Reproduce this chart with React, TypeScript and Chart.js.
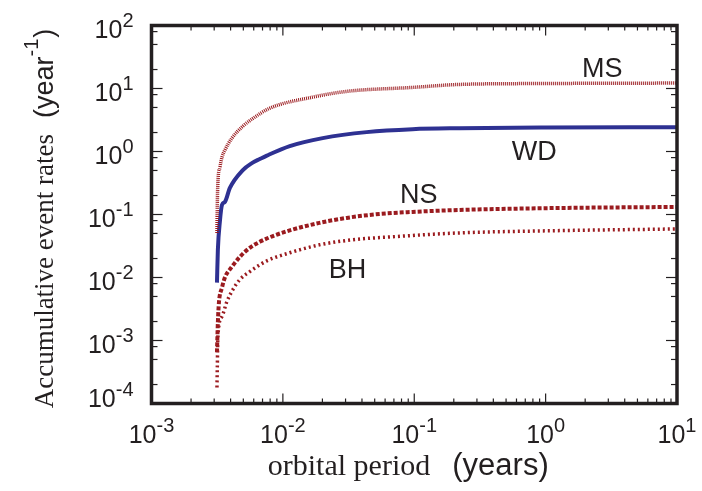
import React, { useEffect, useRef } from "react";
import { Chart, registerables } from "chart.js";

Chart.register(...registerables);

// ---- data ----
const msX = [3.15e-3, 3.17e-3, 3.2e-3, 3.32e-3, 3.44e-3, 3.62e-3, 4.09e-3, 4.96e-3, 5.81e-3, 7.94e-3, 0.0169, 0.0306, 0.097, 0.22, 1, 10];
const msY = [0.051, 0.15, 0.316, 0.566, 0.815, 1.05, 1.63, 2.52, 3.26, 4.86, 7.3, 9.0, 10.4, 11.6, 12.0, 12.2];

const wdX = [3.15e-3, 3.2e-3, 3.32e-3, 3.44e-3, 3.62e-3, 3.95e-3, 4.96e-3, 5.81e-3, 6.67e-3, 7.55e-3, 0.01128, 0.0201, 0.0434, 0.097, 0.22, 1, 10];
const wdY = [0.0083, 0.0275, 0.08, 0.142, 0.158, 0.264, 0.508, 0.655, 0.759, 0.861, 1.22, 1.63, 2.03, 2.26, 2.34, 2.4, 2.43];

const nsX = [3.15e-3, 3.2e-3, 3.26e-3, 3.44e-3, 3.62e-3, 4.09e-3, 4.71e-3, 5.6e-3, 6.67e-3, 7.94e-3, 0.01128, 0.019, 0.0306, 0.0544, 0.097, 0.22, 1, 10];
const nsY = [6.5e-4, 1.93e-3, 3.98e-3, 6.9e-3, 0.01, 0.0148, 0.0213, 0.0296, 0.0368, 0.0435, 0.056, 0.0736, 0.0883, 0.102, 0.11, 0.118, 0.126, 0.132];

const bhX = [3.15e-3, 3.17e-3, 3.2e-3, 3.44e-3, 3.75e-3, 4.16e-3, 4.71e-3, 5.6e-3, 6.67e-3, 7.55e-3, 0.01128, 0.019, 0.034, 0.0684, 0.22, 1, 10];
const bhY = [1.8e-4, 3.9e-4, 1.15e-3, 2.4e-3, 4.17e-3, 6.4e-3, 9.3e-3, 0.0124, 0.0159, 0.0184, 0.0247, 0.033, 0.0397, 0.0443, 0.051, 0.055, 0.059];

// curve labels: [text, x value, y value (baseline)]
const curveLabels: [string, number, number][] = [
  ["MS", 2.7, 15],
  ["WD", 0.82, 0.73],
  ["NS", 0.108, 0.153],
  ["BH", 0.0311, 0.0099],
];

const xTickExps = [-3, -2, -1, 0, 1];
const yTickExps = [-4, -3, -2, -1, 0, 1, 2];
const xMinorMult = [2, 3, 4, 5, 6, 7, 8, 9];
const yMinorMult = [2, 5, 8];

const xTitleSerif = "orbital period";
const xTitleSans = "(years)";
const yTitleSerif = "Accumulative event rates";
const yTitleSans = "(year";
const yTitleSup = "-1";
const yTitleEnd = ")";

const INK = "#231f20";
const RED = "#9b1b1f";
const BLUE = "#2e3192";

const pts = (xs: number[], ys: number[]) => xs.map((x, i) => ({ x, y: ys[i] }));

const SANS = '"Liberation Sans", Arial, sans-serif';
const SERIF = '"Liberation Serif", "Times New Roman", serif';

const framePlugin = {
  id: "frame",
  afterDraw(chart: any) {
    const { ctx, chartArea: a, scales } = chart;
    const xs = scales.x;
    const ys = scales.y;
    ctx.save();
    ctx.strokeStyle = INK;
    ctx.fillStyle = INK;
    ctx.lineWidth = 1.2;
    const line = (x1: number, y1: number, x2: number, y2: number) => {
      ctx.beginPath();
      ctx.moveTo(x1, y1);
      ctx.lineTo(x2, y2);
      ctx.stroke();
    };
    // x ticks
    xTickExps.forEach((e, i) => {
      const v = Math.pow(10, e);
      const px = xs.getPixelForValue(v);
      line(px, a.bottom, px, a.bottom - 10);
      line(px, a.top, px, a.top + 10);
      if (i < xTickExps.length - 1) {
        xMinorMult.forEach((m) => {
          const p = xs.getPixelForValue(v * m);
          line(p, a.bottom, p, a.bottom - 5);
          line(p, a.top, p, a.top + 5);
        });
      }
    });
    // y ticks
    yTickExps.forEach((e, i) => {
      const v = Math.pow(10, e);
      const py = ys.getPixelForValue(v);
      line(a.left, py, a.left + 11, py);
      line(a.right, py, a.right - 11, py);
      if (i < yTickExps.length - 1) {
        yMinorMult.forEach((m) => {
          const p = ys.getPixelForValue(v * m);
          line(a.left, p, a.left + 6, p);
          line(a.right, p, a.right - 6, p);
        });
      }
    });
    // frame
    ctx.lineWidth = 3.5;
    ctx.strokeRect(a.left, a.top, a.right - a.left, a.bottom - a.top);

    // tick labels
    const big = `25px ${SANS}`;
    const small = `20px ${SANS}`;
    ctx.textBaseline = "alphabetic";
    ctx.textAlign = "left";
    xTickExps.forEach((e) => {
      const px = xs.getPixelForValue(Math.pow(10, e));
      const exp = String(e);
      ctx.font = big;
      const w1 = ctx.measureText("10").width;
      ctx.font = small;
      const w2 = ctx.measureText(exp).width;
      const x0 = px - (w1 + w2) / 2;
      ctx.font = big;
      ctx.fillText("10", x0, a.bottom + 39);
      ctx.font = small;
      ctx.fillText(exp, x0 + w1, a.bottom + 28);
    });
    yTickExps.forEach((e, i) => {
      const py = ys.getPixelForValue(Math.pow(10, e));
      const exp = String(e);
      ctx.font = big;
      const w1 = ctx.measureText("10").width;
      ctx.font = small;
      const w2 = ctx.measureText(exp).width;
      const right = a.left - 18;
      const base = i === 0 ? py + 3 : py + 12;
      ctx.font = big;
      ctx.fillText("10", right - w2 - w1, base);
      ctx.font = small;
      ctx.fillText(exp, right - w2, base - 11);
    });

    // x title
    {
      const serif = `30px ${SERIF}`;
      const sans = `31px ${SANS}`;
      ctx.font = serif;
      const w1 = ctx.measureText(xTitleSerif).width;
      ctx.font = sans;
      const w2 = ctx.measureText(xTitleSans).width;
      const gap = 22;
      const cx = (a.left + a.right) / 2 - 6;
      const x0 = cx - (w1 + gap + w2) / 2;
      const base = a.bottom + 71;
      ctx.font = serif;
      ctx.fillText(xTitleSerif, x0, base);
      ctx.font = sans;
      ctx.fillText(xTitleSans, x0 + w1 + gap, base);
    }
    // y title (rotated)
    {
      const serif = `27px ${SERIF}`;
      const sans = `27px ${SANS}`;
      const sup = `20px ${SANS}`;
      ctx.font = serif;
      const w1 = ctx.measureText(yTitleSerif).width;
      ctx.font = sans;
      const w2 = ctx.measureText(yTitleSans).width;
      const w4 = ctx.measureText(yTitleEnd).width;
      ctx.font = sup;
      const w3 = ctx.measureText(yTitleSup).width;
      const gap = 16;
      const total = w1 + gap + w2 + w3 + 1 + w4;
      const cy = (a.top + a.bottom) / 2 + 4;
      ctx.save();
      ctx.translate(53, cy);
      ctx.rotate(-Math.PI / 2);
      let x = -total / 2;
      ctx.font = serif;
      ctx.fillText(yTitleSerif, x, 0);
      x += w1 + gap;
      ctx.font = sans;
      ctx.fillText(yTitleSans, x, 0);
      x += w2;
      ctx.font = sup;
      ctx.fillText(yTitleSup, x, -15);
      x += w3 + 1;
      ctx.font = sans;
      ctx.fillText(yTitleEnd, x, 0);
      ctx.restore();
    }

    // curve labels
    ctx.font = `27px ${SANS}`;
    ctx.textAlign = "center";
    curveLabels.forEach(([t, xv, yv]) => {
      ctx.fillText(t, xs.getPixelForValue(xv), ys.getPixelForValue(yv));
    });
    ctx.restore();
  },
};

export default function App() {
  const ref = useRef<HTMLCanvasElement | null>(null);
  useEffect(() => {
    if (!ref.current) return;
    const chart = new Chart(ref.current, {
      type: "line",
      data: {
        datasets: [
          {
            label: "MS",
            data: pts(msX, msY),
            borderColor: RED,
            borderWidth: 3.5,
            borderDash: [1, 1],
            pointRadius: 0,
            fill: false,
          },
          {
            label: "BH",
            data: pts(bhX, bhY),
            borderColor: RED,
            borderWidth: 3.5,
            borderDash: [2, 3],
            pointRadius: 0,
            fill: false,
          },
          {
            label: "NS",
            data: pts(nsX, nsY),
            borderColor: RED,
            borderWidth: 4,
            borderDash: [4, 2],
            pointRadius: 0,
            fill: false,
          },
          {
            label: "WD",
            data: pts(wdX, wdY),
            borderColor: BLUE,
            borderWidth: 4,
            pointRadius: 0,
            fill: false,
          },
        ],
      },
      options: {
        responsive: false,
        maintainAspectRatio: false,
        devicePixelRatio: 1,
        animation: false,
        parsing: true,
        layout: { padding: { left: 151.5, right: 25, top: 25.5, bottom: 87.5 } },
        plugins: { legend: { display: false }, tooltip: { enabled: false } },
        elements: { line: { cubicInterpolationMode: "monotone" } },
        scales: {
          x: { type: "logarithmic", min: 1e-3, max: 10, display: false },
          y: { type: "logarithmic", min: 1e-4, max: 100, display: false },
        },
      },
      plugins: [framePlugin],
    } as any);
    return () => chart.destroy();
  }, []);
  return (
    <div style={{ position: "fixed", left: 0, top: 0, width: 702, height: 491, background: "#fff" }}>
      <canvas ref={ref} width={702} height={491} style={{ display: "block", width: 702, height: 491 }} />
    </div>
  );
}
